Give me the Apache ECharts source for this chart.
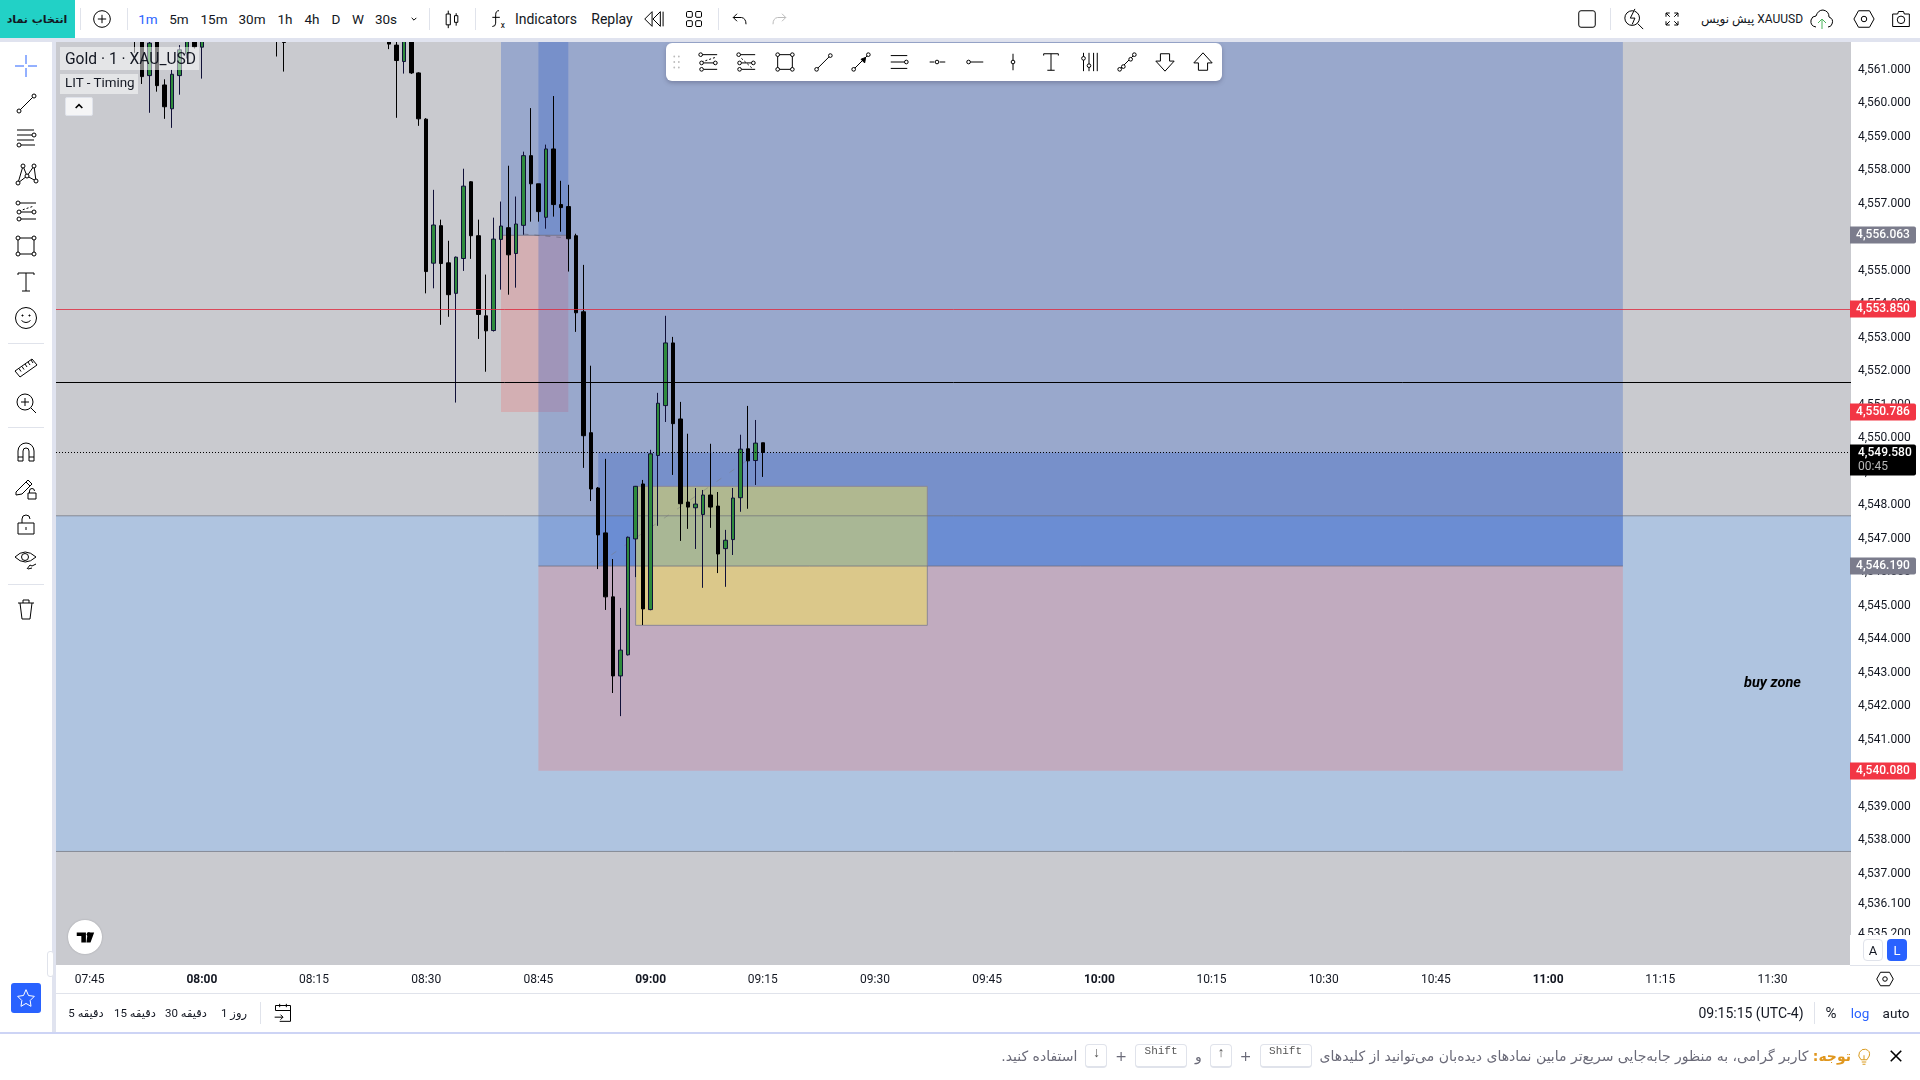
<!DOCTYPE html>
<html lang="fa"><head><meta charset="utf-8"><title>XAUUSD</title>
<script src="https://cdn.jsdelivr.net/npm/echarts@6/dist/echarts.min.js"></script>
<style>
html,body{margin:0;padding:0;width:1920px;height:1080px;overflow:hidden;background:#fff;font-family:Roboto,'DejaVu Sans',sans-serif;color:#131722}
#chart{position:absolute;left:0;top:0;width:1920px;height:1080px}
#ui{position:absolute;left:0;top:0;width:1920px;height:1080px;pointer-events:none}
#ui>*{position:absolute}
.t{transform:translate(-50%,-50%);white-space:nowrap}
svg{overflow:visible}
svg *{vector-effect:non-scaling-stroke}
.k{display:inline-block;box-sizing:border-box;border:1px solid #e0e3eb;border-bottom-width:2px;border-radius:4px;height:24px;line-height:21px;text-align:center;font:11px 'Liberation Mono','DejaVu Sans Mono',monospace;color:#555;direction:ltr}
.note{display:flex;align-items:center;gap:8px;direction:rtl;white-space:nowrap;font:14px/24px 'DejaVu Sans';color:#6a6a78}
</style></head><body>
<div id="chart"></div><div id="ui"></div>
<script>
// ---- chart data ----
const firstMinute = 461, minuteCount = 240;
const timeTickLabels = ['07:45','08:00','08:15','08:30','08:45','09:00','09:15','09:30','09:45','10:00','10:15','10:30','10:45','11:00','11:15','11:30'];
const priceTickLabels = [4561,4560,4559,4558,4557,4556,4555,4554,4553,4552,4551,4550,4549,4548,4547,4546,4545,4544,4543,4542,4541,4539,4538,4537,4536.1,4535.2];
const candleTimes = ['07:51','07:52','07:53','07:54','07:55','07:56','07:57','07:58','07:59','08:00','08:10','08:11',
 '08:25','08:26','08:27','08:28','08:29','08:30','08:31','08:32','08:33','08:34','08:35','08:36','08:37','08:38','08:39','08:40','08:41','08:42','08:43','08:44','08:45','08:46','08:47','08:48','08:49','08:50','08:51','08:52','08:53','08:54','08:55','08:56','08:57','08:58','08:59','09:00','09:01','09:02','09:03','09:04','09:05','09:06','09:07','09:08','09:09','09:10','09:11','09:12','09:13','09:14','09:15'];
const opens = [4562.4,4562.3,4560.83,4561.9,4560.55,4559.84,4560.83,4561.48,4562.0,4561.68,4562.4,4562.2,
 4562.2,4561.74,4561.25,4562.1,4560.91,4559.53,4555.23,4556.35,4555.24,4554.33,4555.37,4557.66,4556.05,4553.66,4553.22,4555.94,4556.29,4555.52,4556.36,4558.44,4557.60,4556.60,4558.64,4556.98,4556.92,4556.05,4553.78,4550.17,4548.52,4547.18,4545.27,4542.91,4543.54,4547.00,4548.64,4544.89,4549.49,4550.98,4552.85,4550.58,4548.10,4547.93,4547.73,4548.31,4547.98,4546.71,4546.98,4548.23,4549.69,4549.34,4549.87];
const closes = [4562.0,4560.80,4561.80,4560.53,4559.90,4560.87,4561.60,4562.0,4561.69,4562.1,4562.1,4561.82,
 4561.77,4561.28,4562.0,4560.91,4559.54,4554.98,4556.37,4555.22,4554.29,4555.41,4557.53,4556.05,4553.70,4553.21,4555.95,4556.34,4555.48,4556.40,4558.44,4557.60,4556.77,4558.64,4556.98,4556.89,4555.96,4553.75,4550.08,4548.49,4547.12,4545.27,4542.91,4543.68,4547.05,4548.57,4544.91,4549.54,4551.05,4552.85,4550.44,4548.05,4547.95,4548.04,4548.31,4547.95,4546.55,4546.96,4548.22,4549.68,4549.33,4549.86,4549.58];
const lows = [4561.51,4560.58,4559.72,4560.35,4559.54,4559.27,4560.26,4561.34,4561.64,4560.74,4561.40,4560.95,
 4561.62,4559.57,4560.89,4560.88,4559.33,4554.33,4554.48,4553.39,4553.63,4551.07,4555.00,4555.36,4552.97,4551.99,4553.19,4554.44,4554.29,4554.50,4556.08,4556.47,4556.47,4556.26,4556.62,4556.17,4554.98,4553.18,4549.12,4548.13,4546.10,4544.88,4542.40,4541.71,4543.52,4545.86,4544.43,4544.87,4547.39,4550.49,4548.91,4546.94,4547.30,4546.70,4545.54,4547.33,4545.98,4545.57,4546.52,4547.81,4547.90,4548.61,4548.85];
const highs = [4562.6,4562.5,4562.0,4562.1,4560.72,4561.00,4561.74,4562.2,4562.2,4562.3,4562.6,4562.4,
 4562.4,4562.0,4562.2,4562.3,4560.93,4559.56,4557.42,4556.53,4555.90,4555.43,4558.05,4557.68,4556.53,4554.89,4556.59,4557.07,4558.14,4557.22,4558.56,4559.86,4557.60,4558.77,4560.22,4557.69,4557.57,4556.11,4555.18,4552.17,4548.55,4549.39,4546.40,4544.94,4547.07,4548.58,4548.76,4549.66,4551.36,4553.66,4553.03,4551.09,4550.14,4548.52,4548.46,4549.84,4548.40,4547.27,4548.52,4550.11,4550.97,4550.55,4549.87];
// zones: kind, first time, last time, upper price, lower price
const zoneKinds = ['band','loss','loss','gain','gain','gain','box'];
const zoneStarts = ['07:41','08:40','08:45','08:40','08:45','08:53','08:58'];
const zoneEnds = ['11:40','08:49','11:10','08:49','11:10','11:10','09:37'];
const zoneTops = [4547.69,4556.063,4546.19,4566,4566,4549.58,4548.57];
const zoneBottoms = [4537.67,4550.786,4540.08,4556.063,4546.19,4546.19,4544.42];
const badgePrices = [4556.063,4553.85,4550.786,4546.19,4540.08];
const badgeKinds = ['entry','level','level','entry','level'];
const lastPrice = 4549.58, lastCountdown = '00:45';
const redLevel = 4553.85, blackLevel = 4551.69;
const guideTimes = ['08:53','09:13'];
const guidePrices = [4546.25,4549.36];
const guide2Times = ['08:43','08:48'];
const guide2Prices = [4556.1,4556.0];
const noteTime = '11:30', notePrice = 4542.70, noteText = 'buy zone';

// ---- styles ----
const pad = n => String(n).padStart(2,'0');
const categories = [];
for (let i=0;i<minuteCount;i++){const m=firstMinute+i;categories.push(pad(Math.floor(m/60))+':'+pad(m%60));}
const fmt = v => v.toLocaleString('en-US',{minimumFractionDigits:3,maximumFractionDigits:3});
const zoneStyle = {
  band:{fill:'#afc4e0',stroke:'rgba(110,112,122,.7)'},
  loss:{fill:'rgba(234,112,117,.3)',stroke:null},
  gain:{fill:'rgba(44,89,200,.3)',stroke:null},
  box:{fill:'rgba(255,240,65,.42)',stroke:'#8a8699'}
};
const badgeColor = {entry:'#7b7c8c',level:'#f23645'};
const FONT='Roboto';
const chart = echarts.init(document.getElementById('chart'),null,{renderer:'canvas'});
chart.setOption({
  animation:false,backgroundColor:'#fff',
  grid:{left:56,right:69,top:42,bottom:115,show:true,backgroundColor:'#c9cacf',borderWidth:0},
  xAxis:{type:'category',data:categories,boundaryGap:true,
    axisLine:{show:false},axisTick:{show:false},splitLine:{show:false},
    axisLabel:{margin:9,fontFamily:FONT,fontSize:12,color:'#131722',
      interval:(i,v)=>timeTickLabels.includes(v),
      formatter:v=>v.endsWith(':00')?'{h|'+v+'}':v,
      rich:{h:{fontFamily:FONT,fontSize:12,fontWeight:'bold',color:'#131722'}}}},
  yAxis:{type:'value',position:'right',min:4534.281,max:4561.833,scale:true,
    axisLine:{show:false},axisTick:{show:false},splitLine:{show:false},
    axisLabel:{customValues:priceTickLabels,margin:7,fontFamily:FONT,fontSize:12,color:'#131722',formatter:fmt}},
  series:[
    {type:'custom',name:'zones',clip:true,z:1,silent:true,
      data:zoneKinds.map((k,i)=>[categories.indexOf(zoneStarts[i]),categories.indexOf(zoneEnds[i]),zoneTops[i],zoneBottoms[i],i]),
      encode:{x:[0,1],y:[2,3]},
      renderItem:(p,api)=>{
        const k=zoneKinds[api.value(4)],cs=p.coordSys;
        const a=api.coord([api.value(0),api.value(2)]),b=api.coord([api.value(1),api.value(3)]);
        const x0=k==='band'?cs.x:a[0],x1=k==='band'?cs.x+cs.width:b[0];
        const st=zoneStyle[k];
        return {type:'rect',shape:{x:x0,y:a[1],width:x1-x0,height:b[1]-a[1]},
          style:{fill:st.fill,stroke:k==='band'?null:st.stroke,lineWidth:1}};
      }},
    {type:'custom',name:'edges',clip:true,z:2,silent:true,
      data:[[0,zoneTops[0]],[0,zoneBottoms[0]]],
      renderItem:(p,api)=>{const y=api.coord([0,api.value(1)])[1],cs=p.coordSys;
        return {type:'line',shape:{x1:cs.x,y1:y,x2:cs.x+cs.width,y2:y},style:{stroke:zoneStyle.band.stroke,lineWidth:1}};}},
    {type:'custom',name:'entries',clip:true,z:2,silent:true,
      data:[[categories.indexOf(zoneStarts[1]),categories.indexOf(zoneEnds[1]),zoneTops[1]],[categories.indexOf(zoneStarts[2]),categories.indexOf(zoneEnds[2]),zoneTops[2]]],
      renderItem:(p,api)=>{const a=api.coord([api.value(0),api.value(2)]),b=api.coord([api.value(1),api.value(2)]);
        return {type:'line',shape:{x1:a[0],y1:a[1],x2:b[0],y2:b[1]},style:{stroke:'rgba(110,110,125,.75)',lineWidth:1}};}},
    {type:'line',name:'guide',z:3,silent:true,symbol:'none',data:guideTimes.map((t,i)=>[t,guidePrices[i]]),lineStyle:{color:'rgba(120,120,120,.45)',width:1,type:[6,10]}},
    {type:'line',name:'guide2',z:3,silent:true,symbol:'none',data:guide2Times.map((t,i)=>[t,guide2Prices[i]]),lineStyle:{color:'rgba(90,90,110,.55)',width:1,type:[5,6]}},
    {type:'candlestick',name:'XAUUSD',z:5,silent:true,barWidth:4,clip:true,
      encode:{x:0,y:[1,2,3,4]},
      data:candleTimes.map((t,i)=>[t,opens[i],closes[i],lows[i],highs[i]]),
      itemStyle:{color:'#2e8b3c',color0:'#000',borderColor:'#101038',borderColor0:'#000',borderWidth:1},
      markLine:{silent:true,symbol:'none',label:{show:false},animation:false,z:6,
        data:[
          {yAxis:redLevel,lineStyle:{color:'rgba(222,40,60,.8)',width:1,type:'solid'}},
          {yAxis:blackLevel,lineStyle:{color:'#000',width:1,type:'solid'}},
          {yAxis:lastPrice,lineStyle:{color:'#000',width:1,type:[1,2]}}
        ]}},
    {type:'custom',name:'note',z:7,silent:true,
      data:[[noteTime,notePrice]],encode:{x:0,y:1},
      renderItem:(p,api)=>{const c=api.coord([api.value(0),api.value(1)]);
        return {type:'text',style:{x:c[0],y:c[1],text:noteText,align:'center',verticalAlign:'middle',fill:'#000',font:'italic bold 14.5px Roboto'}};}},
    {type:'custom',name:'badges',z:20,silent:true,clip:false,
      data:badgePrices.map((v,i)=>[0,v,i]),
      renderItem:(p,api)=>{const cs=p.coordSys,v=api.value(1),y=Math.round(api.coord([0,v])[1]),k=badgeKinds[api.value(2)],X=cs.x+cs.width-1;
        return {type:'group',children:[
          {type:'rect',shape:{x:X,y:y-8.5,width:66,height:17,r:[0,2,2,0]},style:{fill:badgeColor[k]}},
          {type:'text',style:{x:X+33,y:y,text:fmt(v),align:'center',verticalAlign:'middle',fill:'#fff',font:'500 12px Roboto'}}]};}},
    {type:'custom',name:'last',z:21,silent:true,clip:false,
      data:[[0,lastPrice]],
      renderItem:(p,api)=>{const cs=p.coordSys,y=Math.round(api.coord([0,api.value(1)])[1])+1;
        const X=cs.x+cs.width-1;
        return {type:'group',children:[
          {type:'rect',shape:{x:X,y:y-8.5,width:66,height:31,r:[0,2,2,0]},style:{fill:'#000'}},
          {type:'text',style:{x:X+8,y:y,text:fmt(api.value(1)),align:'left',verticalAlign:'middle',fill:'#fff',font:'500 12px Roboto'}},
          {type:'text',style:{x:X+8,y:y+14,text:lastCountdown,align:'left',verticalAlign:'middle',fill:'#b8b8b8',font:'12px Roboto'}}]};}}
  ]
});

// ---- page chrome ----
const circ=(x,y,r=2)=>`<circle cx="${x}" cy="${y}" r="${r}" fill="#fff"/>`;
const icons={
 cross:`<g stroke="#2962ff"><path d="M12 1v9M12 14v9M1 12h9M14 12h9"/></g>`,
 trend:`<path d="M5 20L20 5"/>`+circ(5,20)+circ(20,5),
 lines:`<path d="M3 4h17M3 9h15M3 14h17M7 19h14"/>`+circ(20,9)+circ(5,19),
 pattern:`<path d="M4 21L9 4L13 14L20 4L22 19L13 14M4 21L13 14"/>`+circ(4,21)+circ(9,4)+circ(13,14)+circ(20,4)+circ(22,19),
 fib:`<path d="M4 4h18M7 13h15M7 20h15"/><path d="M5 12L20 7" stroke-dasharray="2 2"/>`+circ(4,4)+circ(5,13)+circ(5,20)+circ(20,13),
 fib2:`<path d="M4 4h18M7 13h15M7 20h15"/><path d="M7 8L20 20" stroke-dasharray="2 2"/>`+circ(4,4)+circ(5,13)+circ(5,20)+circ(20,13),
 rect:`<rect x="4" y="4" width="16" height="16"/>`+circ(4,4)+circ(20,4)+circ(4,20)+circ(20,20),
 text:`<path d="M4 3H20M4 3v2M20 3v2M12 3V21M8 21H16"/>`,
 smile:`<circle cx="12" cy="12" r="10.5"/><path d="M7.5 14.5q4.5 4 9 0"/><circle cx="8.5" cy="9.5" r=".6" fill="#000"/><circle cx="15.5" cy="9.5" r=".6" fill="#000"/>`,
 ruler:`<path d="M1 17L18 5L23 11L6 23Z M5 14.5l2 3M8 12.5l2 3M11 10l2 3M14 8l2 3M17 6l2 3"/>`,
 zoom:`<circle cx="11" cy="11" r="8"/><path d="M17 17l5 5M7 11h8M11 7v8"/>`,
 magnet:`<path d="M4 21V11a8 8 0 0 1 16 0V21h-5V11a3 3 0 0 0-6 0V21ZM4 17h5M15 17h5"/>`,
 pencil:`<path d="M2 15L14 3L18 7L8 17L2 18Z M12 5l4 4"/><rect x="14" y="16" width="8" height="6"/><path d="M15.5 16v-2a2.5 2.5 0 0 1 5 0"/>`,
 lock:`<rect x="4" y="11" width="16" height="11"/><path d="M8 11V7a4 4 0 0 1 8 0"/><path d="M12 15v3"/>`,
 eye:`<path d="M1 9Q11 -1 22 9Q11 19 1 9Z"/><circle cx="11" cy="9" r="3.5"/><path d="M13 21l3-4 2 1 4-2M14 21l4-1"/>`,
 trash:`<path d="M4 6H20M9 6V3H15V6M6 6L8 22H16L18 6"/>`,
 grip:`<g fill="#bbb" stroke="none"><circle cx="9" cy="6" r="1"/><circle cx="14" cy="6" r="1"/><circle cx="9" cy="12" r="1"/><circle cx="14" cy="12" r="1"/><circle cx="9" cy="18" r="1"/><circle cx="14" cy="18" r="1"/></g>`,
 arrowLine:`<path d="M3 21L21 3"/><path d="M12 9l5-2-1 6Z" fill="#000"/>`+circ(4,20)+circ(20,4),
 lines3:`<path d="M3 5h18M3 12h15M3 19h18"/>`+circ(20,12),
 ray1:`<path d="M4 12H9M15 12H21"/>`+circ(12,12),
 ray2:`<path d="M7 12H21"/>`+circ(5,12),
 vert:`<path d="M12 3V21"/>`+circ(12,12),
 tools:`<path d="M6 2V22M17 2V22M21 2V22M12 2V22"/>`+circ(6,8)+circ(12,16),
 cross2:`<path d="M3 21L21 3"/>`+circ(8,17)+circ(16,9)+circ(20,4)+circ(4,20),
 down:`<path d="M7 3H17V11H22L12 22L2 11H7Z" fill="#fff"/>`,
 up:`<path d="M7 21H17V13H22L12 2L2 13H7Z" fill="#fff"/>`,
 plus:`<circle cx="12" cy="12" r="10"/><path d="M7 12h10M12 7v10"/>`,
 chev:`<path d="M8 10l4 4 4-4"/>`,
 chevUp:`<path d="M7 15l5-5 5 5" stroke-width="1.6"/>`,
 candle:`<rect x="5" y="6" width="5" height="13"/><rect x="15" y="8" width="4" height="8"/><path d="M7.5 2V6M7.5 19V23M17 5V8M17 16V20"/>`,
 fx:`<path d="M12 2Q8 2 8 7V17Q8 21 4 21M4 10H13"/><text x="14" y="23" font-size="10" stroke="none" fill="#000">x</text>`,
 rewind:`<path d="M11 4L3 12L11 20ZM20 4L12 12L20 20ZM23 4V20"/>`,
 grid:`<rect x="3" y="3" width="7" height="7" rx="1.5"/><rect x="14" y="3" width="7" height="7" rx="1.5"/><rect x="3" y="14" width="7" height="7" rx="1.5"/><rect x="14" y="14" width="7" height="7" rx="1.5"/>`,
 undo:`<path d="M8 5L3 10L8 15M3 10H14Q20 11 20 19"/>`,
 redo:`<g stroke="#bbb"><path d="M16 5L21 10L16 15M21 10H10Q4 11 4 19"/></g>`,
 square:`<rect x="3" y="3" width="18" height="18" rx="2.5"/>`,
 bolt:`<circle cx="10" cy="11" r="8"/><path d="M16 17l6 6"/><path d="M13 1L8 11h5L10 18" fill="#fff"/>`,
 full:`<path d="M4 9V4H9M15 4H20V9M20 15V20H15M9 20H4V15M4 4l5 5M20 4l-5 5M20 20l-5-5M4 20l5-5"/>`,
 cloud:`<path d="M6 20Q0 19 1 13Q2 9 6 9Q8 3 13 3Q19 4 19 10Q24 12 22 17Q21 20 18 20"/><g stroke="#49b35a"><path d="M12 22V12M8 16l4-4 4 4"/></g>`,
 hex:`<path d="M6 3H18L23 12L18 21H6L1 12Z"/><circle cx="12" cy="12" r="3"/>`,
 camera:`<path d="M2 6H8L9 3H15L16 6H22V21H2Z"/><circle cx="12" cy="13" r="4.5"/>`,
 calendar:`<path d="M3 9V3H21V22H8M3 9H21M8 1V5M16 1V5M2 17H12M9 14l3 3-3 3"/>`,
 bulb:`<g stroke="#d99a1d"><path d="M8 17Q3 12 6 7Q9 2 14 3Q21 5 19 12Q17 15 16 17ZM9 20H15M10 23H14M12 17V11"/></g>`,
 close:`<path d="M5 5L19 19M19 5L5 19" stroke-width="1.6"/>`,
 star:`<g stroke="#fff"><path d="M12 2L15 9L22 10L17 15L18 22L12 18.5L6 22L7 15L2 10L9 9Z"/></g>`,
 logo:`<path d="M3 7H13V18H8V11H3ZM15 7H22L18 18H13.5Z" fill="#000" stroke="none"/><circle cx="16" cy="9" r="2.2" fill="#000" stroke="none"/>`
};
const ico=(name,cx,cy,s=24)=>`<svg style="left:${cx-s/2}px;top:${cy-s/2}px;width:${s}px;height:${s}px" viewBox="0 0 24 24" fill="none" stroke="#000" stroke-width="1">${icons[name]}</svg>`;
const txt=(x,y,s,st='')=>`<span class="t" style="left:${x}px;top:${y}px;font-size:13.5px;${st}">${s}</span>`;
const box=(x,y,w,h,st)=>`<div style="left:${x}px;top:${y}px;width:${w}px;height:${h}px;${st}"></div>`;
let h='';
// separators and panels
h+=box(0,0,1920,38,'background:#fff');
h+=box(0,38,1920,4,'background:#e0e3ef');
h+=box(52,42,4,990,'background:#e0e3ef');
h+=box(0,42,52,990,'background:#fff');
h+=box(0,1032,1920,2,'background:#cdd4f5');
h+=box(56,993,1864,1,'background:#e0e3eb');
h+=box(1850,935,70,30,'background:#fff');
h+=box(1850,965,70,1,'background:#e0e3eb');
// top bar
h+=box(0,0,75,38,'background:#22d1c6');
h+=txt(37,19,'انتخاب نماد',"font:bold 11px 'DejaVu Sans';direction:rtl");
[80,127,429,475,718,1610].forEach(x=>h+=box(x,8,1,22,'background:#e0e3eb'));
h+=ico('plus',102,19,20);
[[148,'1m','color:#2962ff'],[179,'5m'],[214,'15m'],[252,'30m'],[285,'1h'],[312,'4h'],[336,'D'],[358,'W'],[386,'30s']].forEach(a=>h+=txt(a[0],19,a[1],a[2]||''));
h+=ico('chev',414,19,14)+ico('candle',452,19,20)+ico('fx',499,19,20);
h+=txt(546,19,'Indicators','font-size:14px')+txt(612,19,'Replay','font-size:14px');
h+=ico('rewind',653,19,22)+ico('grid',694,19,20)+ico('undo',740,19,18)+ico('redo',779,19,18);
h+=ico('square',1587,19,22)+ico('bolt',1634,19,22)+ico('full',1672,19,18);
h+=txt(1752,19,'<bdi>XAUUSD</bdi> <bdi>پیش نویس</bdi>',"font:12px Roboto,'DejaVu Sans';direction:rtl");
h+=ico('cloud',1822,19,24)+ico('hex',1864,19,22)+ico('camera',1901,19,20);
// left tools
[['cross',66],['trend',103],['lines',138],['pattern',174],['fib',211],['rect',246],['text',282],['smile',318],['ruler',366],['zoom',403],['magnet',452],['pencil',489],['lock',524],['eye',560],['trash',609]].forEach(a=>h+=ico(a[0],26,a[1],24));
[343,427,584].forEach(y=>h+=box(8,y,36,1,'background:#e0e3eb'));
h+=box(47,951,7,26,'background:#fff;border:1px solid #e0e3eb;border-radius:3px;box-sizing:border-box');
h+=box(11,983,30,30,'background:#2962ff;border-radius:3px');
h+=ico('star',26,998,20);
// floating tools
h+=box(666,43,556,38,'background:#fff;border-radius:6px;box-shadow:0 2px 4px rgba(60,60,90,.35)');
[['grip',677],['fib',708],['fib2',746],['rect',785],['trend',823],['arrowLine',861],['lines3',899],['ray1',937],['ray2',975],['vert',1013],['text',1051],['tools',1089],['cross2',1127],['down',1165],['up',1203]].forEach(a=>h+=ico(a[0],a[1],62,22));
// legend
h+=box(60,47,139,23,'background:rgba(255,255,255,.5)')+box(60,74,78,20,'background:rgba(255,255,255,.5)');
h+=`<span style="left:65px;top:50px;font-size:15.6px;white-space:nowrap">Gold · 1 · XAU_USD</span>`;
h+=`<span style="left:65px;top:75px;font-size:13.4px;white-space:nowrap">LIT - Timing</span>`;
h+=box(65,97,28,19,'background:#f5f5f6;border:1px solid #e0e3eb;border-radius:2px;box-sizing:border-box')+ico('chevUp',79,106,16);
// logo
h+=box(67.5,920,34,34,'background:#fff;border-radius:50%;box-shadow:0 0 2px rgba(0,0,0,.2)')+ico('logo',84.5,937,22);
// scale buttons
h+=box(1863,939,20,22,'background:#fff;border:1px solid #e0e3eb;border-radius:4px;box-sizing:border-box')+txt(1873,950,'A','font-size:13px');
h+=box(1887,939,20,22,'background:#2962ff;border-radius:4px')+txt(1897,950,'L','font-size:13px;color:#fff');
h+=ico('hex',1885,979,18);
// bottom bar
[[86,'5','دقیقه'],[135,'15','دقیقه'],[186,'30','دقیقه'],[234,'1','روز']].forEach(a=>h+=txt(a[0],1013,a[1]+' <bdi>'+a[2]+'</bdi>',"font:11.5px Roboto,'DejaVu Sans';direction:ltr"));
h+=box(260,1002,1,22,'background:#e0e3eb')+ico('calendar',283,1013,20);
h+=txt(1751,1013,'09:15:15 (UTC-4)','font-size:14px')+box(1814,1002,1,22,'background:#e0e3eb');
h+=txt(1831,1013,'%','font-size:15px')+txt(1860,1013,'log','color:#2962ff')+txt(1896,1013,'auto');
// note
h+=ico('close',1896,1056,18)+ico('bulb',1864,1056,18);
h+=`<div class="note" style="right:69px;top:1056px;transform:translateY(-50%)"><span><b style="color:#e0971e">توجه:</b> کاربر گرامی، به منظور جابه‌جایی سریع‌تر مابین نمادهای دیده‌بان می‌توانید از کلیدهای</span><span class="k" style="width:52px">Shift</span><span>+</span><span class="k" style="width:22px;font-size:14px">↑</span><span>و</span><span class="k" style="width:52px">Shift</span><span>+</span><span class="k" style="width:22px;font-size:14px">↓</span><span>استفاده کنید.</span></div>`;
document.getElementById('ui').innerHTML=h;
</script>
</body></html>
